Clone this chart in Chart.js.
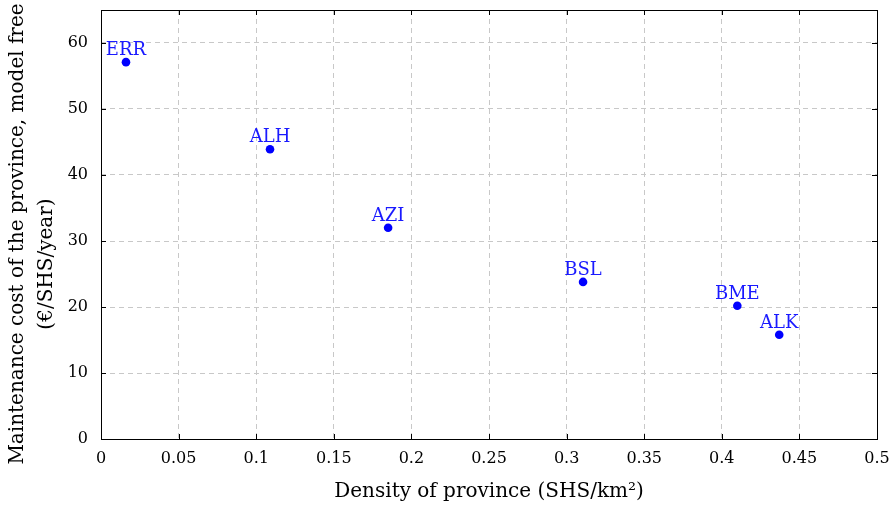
<!DOCTYPE html>
<html>
<head>
<meta charset="utf-8">
<script src="https://cdn.jsdelivr.net/npm/chart.js@4"></script>
<style>
  html, body { margin: 0; padding: 0; background: #fff; }
  #wrap { width: 894px; height: 507px; }
</style>
</head>
<body>
<div id="wrap"><canvas id="chartCanvas" width="894" height="507"></canvas></div>
<script>
const provinces = ["ERR", "ALH", "AZI", "BSL", "BME", "ALK"];
const density = [0.0161, 0.1089, 0.185, 0.3106, 0.41, 0.437];
const cost = [57.1, 43.9, 32.0, 23.8, 20.2, 15.8];
const xTicks = [0, 0.05, 0.1, 0.15, 0.2, 0.25, 0.3, 0.35, 0.4, 0.45, 0.5];
const yTicks = [0, 10, 20, 30, 40, 50, 60];
const yTitle = ["Maintenance cost of the province, model free", "(€/SHS/year)"];

const FONT = "'DejaVu Serif', serif";

// frame, inward ticks on all four sides, the point labels and the y title
const framePlugin = {
  id: "frame",
  afterDatasetsDraw(chart) {
    const { ctx, chartArea: a, scales } = chart;
    ctx.save();
    ctx.strokeStyle = "#000";
    ctx.lineWidth = 1;
    ctx.beginPath();
    xTicks.forEach(v => {
      const x = Math.round(scales.x.getPixelForValue(v)) + 0.5;
      ctx.moveTo(x, a.bottom); ctx.lineTo(x, a.bottom - 5);
      ctx.moveTo(x, a.top); ctx.lineTo(x, a.top + 5);
    });
    yTicks.forEach(v => {
      const y = Math.round(scales.y.getPixelForValue(v)) + 0.5;
      ctx.moveTo(a.left, y); ctx.lineTo(a.left + 5, y);
      ctx.moveTo(a.right, y); ctx.lineTo(a.right - 5, y);
    });
    ctx.stroke();
    ctx.strokeRect(Math.round(a.left) + 0.5, Math.round(a.top) + 0.5,
      Math.round(a.right - a.left), Math.round(a.bottom - a.top));

    ctx.fillStyle = "#1a1aff";
    ctx.font = "18px " + FONT;
    ctx.textAlign = "center";
    ctx.textBaseline = "alphabetic";
    const meta = chart.getDatasetMeta(0);
    meta.data.forEach((pt, i) => {
      ctx.fillText(provinces[i], pt.x, pt.y - 7);
    });

    // y title, two rotated lines
    ctx.fillStyle = "#000";
    ctx.font = "20px " + FONT;
    [[23, 234], [52, 264]].forEach(([bx, cy], i) => {
      ctx.save();
      ctx.translate(bx, cy);
      ctx.rotate(-Math.PI / 2);
      ctx.fillText(yTitle[i], 0, 0);
      ctx.restore();
    });
    ctx.restore();
  }
};

new Chart(document.getElementById("chartCanvas"), {
  type: "scatter",
  data: {
    datasets: [{
      data: density.map((d, i) => ({ x: d, y: cost[i] })),
      backgroundColor: "#0000ff",
      borderColor: "#0000ff",
      pointRadius: 4.3,
      pointHoverRadius: 4.3,
      borderWidth: 0
    }]
  },
  options: {
    responsive: false,
    animation: false,
    layout: { padding: { left: 0, top: 10, right: 17, bottom: 0 } },
    plugins: { legend: { display: false }, tooltip: { enabled: false } },
    scales: {
      x: {
        type: "linear",
        min: 0, max: 0.5,
        afterBuildTicks(scale) { scale.ticks = xTicks.map(v => ({ value: v })); },
        afterFit(scale) { scale.height = 68; scale.paddingLeft = 0; scale.paddingRight = 0; },
        grid: { color: "#c8c8c8", lineWidth: 1, drawTicks: false },
        border: { display: false, dash: [5, 4] },
        ticks: {
          padding: 10,
          color: "#000",
          font: { family: FONT, size: 16 },
          maxRotation: 0,
          callback: v => String(+v.toFixed(2))
        },
        title: {
          display: true,
          text: "Density of province (SHS/km²)",
          color: "#000",
          font: { family: FONT, size: 20 },
          padding: { top: 0, bottom: 3 }
        }
      },
      y: {
        type: "linear",
        min: 0, max: 65,
        afterBuildTicks(scale) { scale.ticks = yTicks.map(v => ({ value: v })); },
        afterFit(scale) { scale.width = 101; scale.paddingTop = 0; scale.paddingBottom = 0; },
        grid: { color: "#c8c8c8", lineWidth: 1, drawTicks: false },
        border: { display: false, dash: [5, 4] },
        ticks: {
          padding: 13,
          color: "#000",
          font: { family: FONT, size: 16 },
          callback: v => String(v)
        },
        title: { display: false }
      }
    }
  },
  plugins: [framePlugin]
});
</script>
</body>
</html>
